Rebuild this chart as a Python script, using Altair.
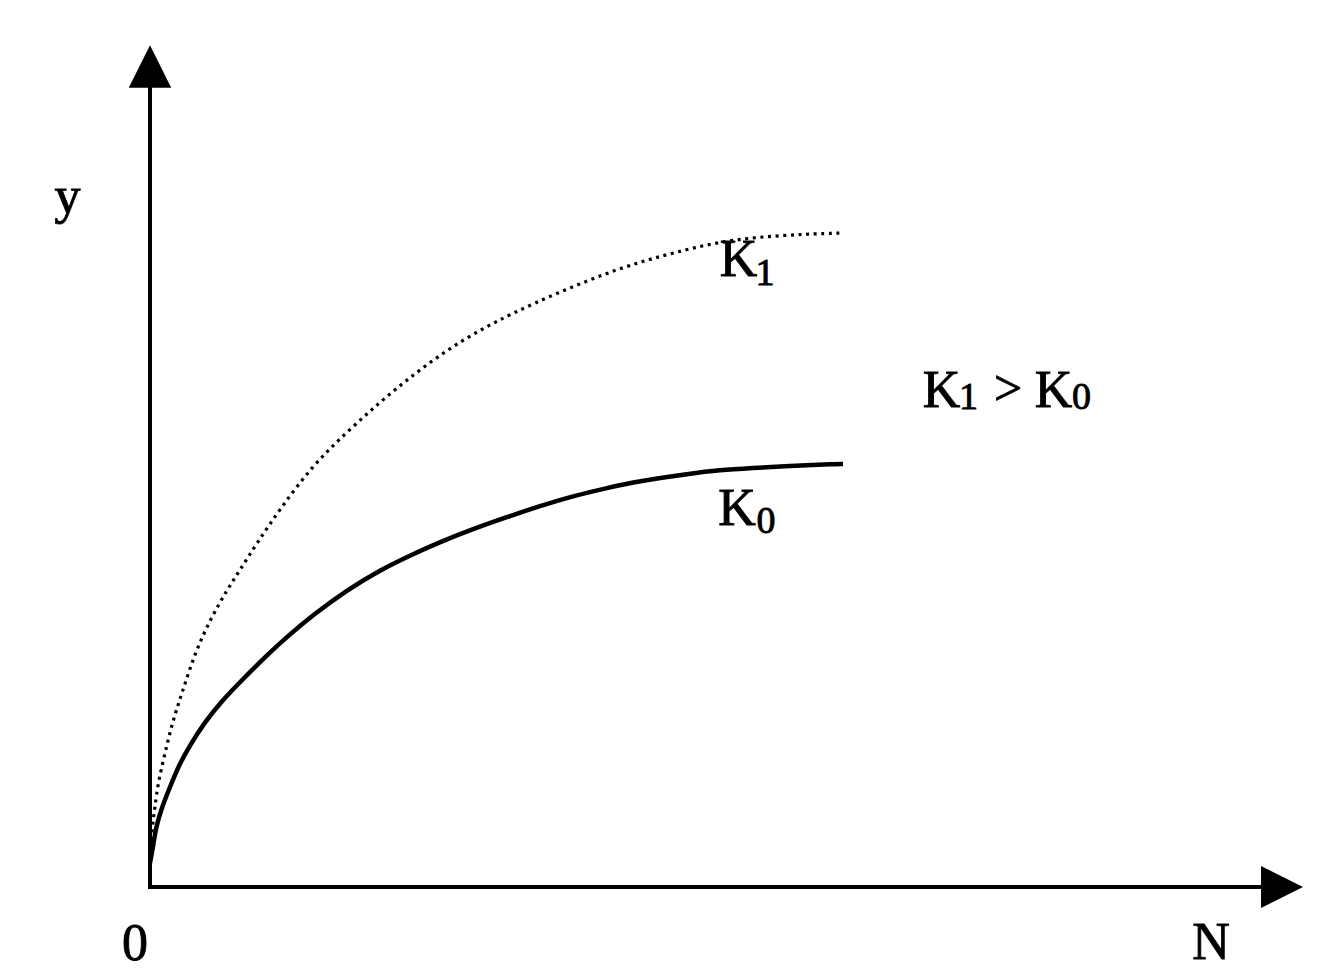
import altair as alt
import pandas as pd

# ---- data (x = N, y = output) ----
k0_x = [0.0, 0.03, 0.06, 0.12, 0.20, 0.28, 0.40, 0.55, 0.70, 0.90, 1.17, 1.38, 1.63,
        1.97, 2.30, 2.63, 2.90, 3.23, 3.57, 3.90, 4.23, 4.57, 4.85, 5.03, 5.37, 5.70,
        6.03, 6.37, 6.87, 6.93]
k0_y = [0.24, 0.40, 0.60, 0.80, 1.00, 1.20, 1.42, 1.65, 1.84, 2.05, 2.32, 2.51, 2.72,
        2.97, 3.17, 3.33, 3.45, 3.58, 3.70, 3.81, 3.91, 3.99, 4.05, 4.08, 4.13, 4.17,
        4.19, 4.21, 4.23, 4.23]

k1_x = [0.0, 0.03, 0.05, 0.08, 0.15, 0.23, 0.33, 0.45, 0.60, 0.77, 0.90, 1.07, 1.30,
        1.63, 1.97, 2.30, 2.63, 2.97, 3.30, 3.63, 4.07, 4.57, 4.90, 5.23, 5.63, 6.07,
        6.57, 6.93]
k1_y = [0.32, 0.67, 0.80, 1.04, 1.34, 1.67, 1.97, 2.34, 2.67, 2.97, 3.17, 3.44, 3.78,
        4.22, 4.55, 4.85, 5.12, 5.37, 5.57, 5.74, 5.94, 6.14, 6.25, 6.34, 6.44, 6.50,
        6.53, 6.54]

# axis extents
y_axis_top = 7.99
x_axis_right = 11.12
y_arrow = [0.0, 8.205]
x_arrow = [11.32, 0.0]

# text labels: text, x, y
big_labels = [
    ("y", -0.825, 6.74),
    ("0", -0.15, -0.73),
    ("N", 10.61, -0.72),
    ("K", 5.885, 6.11),
    ("K", 5.87, 3.62),
    ("K", 7.915, 4.80),
    ("K", 9.035, 4.80),
]
sub_labels = [
    ("1", 6.15, 6.02),
    ("0", 6.16, 3.54),
    ("1", 8.185, 4.78),
    ("0", 9.315, 4.78),
]
gt_label = [(">", 8.58, 4.97)]

xs = alt.Scale(domain=[-1.42, 11.78], nice=False, zero=False)
ys = alt.Scale(domain=[-0.86, 8.79], nice=False, zero=False)

k0 = pd.DataFrame({"x": k0_x, "y": k0_y, "i": range(len(k0_x))})
k1 = pd.DataFrame({"x": k1_x, "y": k1_y, "i": range(len(k1_x))})

X = lambda: alt.X("x:Q", scale=xs, axis=None)
Y = lambda: alt.Y("y:Q", scale=ys, axis=None)

axes_df = pd.DataFrame({"x": [0.0, 0.0], "y": [0.0, 0.0],
                        "x2": [0.0, x_axis_right], "y2": [y_axis_top, 0.0]})
axes = alt.Chart(axes_df).mark_rule(color="black", strokeWidth=4, strokeCap="square").encode(
    x=X(), y=Y(), x2="x2:Q", y2="y2:Q")

up = alt.Chart(pd.DataFrame({"x": [y_arrow[0]], "y": [y_arrow[1]]})).mark_point(
    shape="M0,-1L1,1L-1,1Z", filled=True, color="black", opacity=1, size=1800,
    strokeWidth=0).encode(x=X(), y=Y())
right = alt.Chart(pd.DataFrame({"x": [x_arrow[0]], "y": [x_arrow[1]]})).mark_point(
    shape="M-1,-1L1,0L-1,1Z", filled=True, color="black", opacity=1, size=1760,
    strokeWidth=0).encode(x=X(), y=Y())

line0 = alt.Chart(k0).mark_line(color="black", strokeWidth=4.5, interpolate="basis").encode(
    x=X(), y=Y(), order="i:Q")
line1 = alt.Chart(k1).mark_line(color="black", strokeWidth=3.2, strokeDash=[3, 4.6],
                                interpolate="basis").encode(x=X(), y=Y(), order="i:Q")

def texts(items, size, baseline="alphabetic"):
    df = pd.DataFrame(items, columns=["t", "x", "y"])
    return alt.Chart(df).mark_text(font="Liberation Serif", fontSize=size, color="black",
                                   stroke="black", strokeWidth=0.9,
                                   align="center", baseline=baseline).encode(
        x=X(), y=Y(), text="t:N")

chart = alt.layer(
    axes, up, right, line0, line1,
    texts(big_labels, 52), texts(sub_labels, 38), texts(gt_label, 50, "middle"),
).properties(width=1320, height=965, padding=0, autosize="none").configure_view(stroke=None)

chart.save("out.html", embed_options={"renderer": "svg", "actions": False})
